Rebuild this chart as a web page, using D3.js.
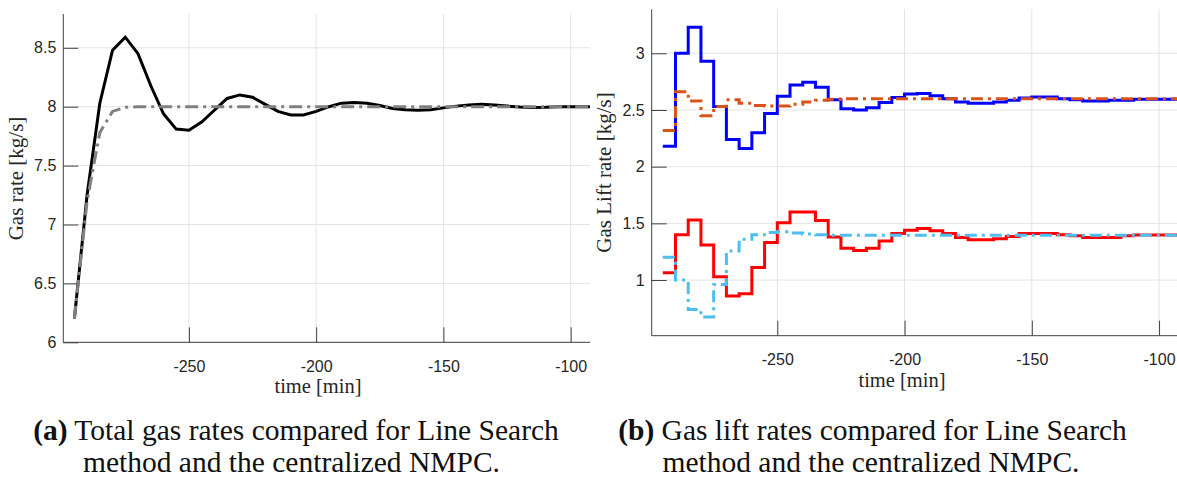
<!DOCTYPE html>
<html><head><meta charset="utf-8">
<script src="https://cdn.jsdelivr.net/npm/d3@7"></script>
<style>
html,body{margin:0;padding:0;background:#fff;}
svg{display:block;}
</style></head>
<body>
<svg id="chart" width="1177" height="479"></svg>
<script>
// ---------- data ----------
const timeMin = d3.range(-295, -94, 5); // sample times
const xTicks = [-250, -200, -150, -100];

// (a) total gas rates
const gasLineSearch = [6.2, 7.25, 8.03, 8.48, 8.59, 8.45, 8.18, 7.94, 7.81, 7.80,
  7.87, 7.97, 8.07, 8.10, 8.08, 8.02, 7.96, 7.93, 7.93, 7.96,
  8.00, 8.03, 8.035, 8.03, 8.01, 7.985, 7.975, 7.97, 7.975, 7.99,
  8.005, 8.015, 8.02, 8.015, 8.005, 7.997, 7.994, 7.995, 8.0, 8.0, 8.0];
const gasCentral = [6.2, 7.2, 7.78, 7.96, 7.995, 8.0, 8.0, 8.0, 8.0, 8.0,
  8.0, 8.0, 8.0, 8.0, 8.0, 8.0, 8.0, 8.0, 8.0, 8.0,
  8.0, 8.0, 8.0, 8.0, 8.0, 8.0, 8.0, 8.0, 8.0, 8.0,
  8.0, 8.0, 8.0, 8.0, 8.0, 8.0, 8.0, 8.0, 8.0, 8.0, 8.0];
const yTicksA = [6, 6.5, 7, 7.5, 8, 8.5];

// (b) gas lift rates
const well1LineSearch = [2.18, 3.00, 3.23, 2.93, 2.53, 2.24, 2.16, 2.30, 2.47, 2.62,
  2.72, 2.745, 2.70, 2.59, 2.51, 2.50, 2.52, 2.565, 2.61, 2.64,
  2.645, 2.625, 2.60, 2.57, 2.56, 2.56, 2.57, 2.585, 2.605, 2.615,
  2.615, 2.60, 2.59, 2.58, 2.58, 2.585, 2.585, 2.595, 2.595, 2.595, 2.595];
const well1Central = [2.32, 2.66, 2.58, 2.45, 2.53, 2.59, 2.56, 2.54, 2.535, 2.535,
  2.55, 2.57, 2.585, 2.595, 2.60, 2.60, 2.60, 2.60, 2.60, 2.60,
  2.60, 2.60, 2.60, 2.60, 2.60, 2.60, 2.60, 2.60, 2.60, 2.60,
  2.60, 2.60, 2.60, 2.60, 2.60, 2.60, 2.60, 2.60, 2.60, 2.60, 2.60];
const well2LineSearch = [1.065, 1.40, 1.53, 1.31, 1.03, 0.86, 0.88, 1.11, 1.33, 1.505,
  1.60, 1.60, 1.525, 1.38, 1.28, 1.26, 1.28, 1.345, 1.41, 1.44,
  1.455, 1.435, 1.41, 1.375, 1.355, 1.355, 1.365, 1.385, 1.41, 1.41,
  1.41, 1.40, 1.39, 1.375, 1.375, 1.375, 1.39, 1.397, 1.397, 1.397, 1.397];
const well2Central = [1.20, 1.00, 0.74, 0.675, 0.96, 1.255, 1.36, 1.40, 1.42, 1.425,
  1.415, 1.405, 1.40, 1.395, 1.395, 1.395, 1.395, 1.395, 1.395, 1.395,
  1.395, 1.395, 1.395, 1.395, 1.395, 1.395, 1.395, 1.395, 1.395, 1.395,
  1.395, 1.395, 1.395, 1.395, 1.395, 1.395, 1.395, 1.395, 1.395, 1.395, 1.395];
const yTicksB = [1, 1.5, 2, 2.5, 3];

const xDomain = [-299.35, -92.4];

// ---------- drawing ----------
const svg = d3.select('#chart');
const axisColor = '#404040';
const gridColor = '#e3e3e3';
const tickFont = '"Liberation Sans", Arial, sans-serif';
const labelFont = '"Liberation Serif", "Times New Roman", serif';

function series(vals) {
  const pts = timeMin.map((t, i) => ({t, v: vals[i]}));
  pts.push({t: xDomain[1], v: vals[vals.length - 1]});
  return pts;
}

function panel(opt) {
  const x = d3.scaleLinear().domain(xDomain).range([opt.left, opt.left + 526.7]);
  const y = d3.scaleLinear().domain(opt.yDomain).range([opt.bottom, opt.top]);
  const g = svg.append('g');

  // grid
  g.selectAll('.vg').data(xTicks).enter().append('line')
    .attr('x1', d => x(d)).attr('x2', d => x(d))
    .attr('y1', opt.top).attr('y2', opt.bottom)
    .attr('stroke', gridColor).attr('stroke-width', 1);
  g.selectAll('.hg').data(opt.yTicks).enter().append('line')
    .attr('x1', opt.left).attr('x2', opt.left + 526.7)
    .attr('y1', d => y(d)).attr('y2', d => y(d))
    .attr('stroke', gridColor).attr('stroke-width', 1);

  // axes with inward ticks
  const xAxis = d3.axisBottom(x).tickValues(xTicks).tickSize(-15).tickPadding(24)
    .tickFormat(d => String(d));
  const gx = g.append('g').attr('transform', `translate(0,${opt.bottom})`).call(xAxis);
  const yAxis = d3.axisLeft(y).tickValues(opt.yTicks).tickSize(-15).tickPadding(22)
    .tickFormat(d => String(d));
  const gy = g.append('g').attr('transform', `translate(${opt.left},0)`).call(yAxis);
  [gx, gy].forEach(a => {
    a.select('.domain').remove();
    a.selectAll('.tick line').attr('stroke', axisColor).attr('stroke-width', 1);
    a.selectAll('.tick text').attr('fill', '#262626')
      .style('font-family', tickFont).style('font-size', '16px');
  });
  gx.selectAll('.tick text').attr('dy', '0.71em').attr('y', 18);
  gy.selectAll('.tick text').attr('x', -7);
  // axis lines
  g.append('line').attr('x1', opt.left).attr('x2', opt.left + 526.7)
    .attr('y1', opt.bottom).attr('y2', opt.bottom)
    .attr('stroke', axisColor).attr('stroke-width', 1);
  g.append('line').attr('x1', opt.left).attr('x2', opt.left)
    .attr('y1', opt.top).attr('y2', opt.bottom)
    .attr('stroke', axisColor).attr('stroke-width', 1);

  // lines
  opt.lines.forEach(l => {
    const gen = d3.line().x(d => x(d.t)).y(d => y(d.v))
      .curve(l.step ? d3.curveStepAfter : d3.curveLinear);
    g.append('path').datum(series(l.values))
      .attr('d', gen)
      .attr('fill', 'none')
      .attr('stroke', l.color)
      .attr('stroke-width', 3)
      .attr('stroke-linejoin', 'miter')
      .attr('stroke-dasharray', l.dash || null);
  });

  // labels
  g.append('text').attr('x', opt.xLabelX).attr('y', opt.bottom + 51)
    .attr('text-anchor', 'middle').attr('fill', '#262626')
    .style('font-family', labelFont).style('font-size', '20.5px')
    .text('time [min]');
  g.append('text')
    .attr('transform', `translate(${opt.yLabelX},${opt.yLabelY}) rotate(-90)`)
    .attr('text-anchor', 'middle').attr('fill', '#262626')
    .style('font-family', labelFont).style('font-size', '21px')
    .text(opt.yLabel);
}

panel({
  left: 63.3, top: 14, bottom: 342.3,
  yDomain: [6, 8.787], yTicks: yTicksA,
  xLabelX: 318, yLabelX: 23, yLabelY: 178.5,
  yLabel: 'Gas rate [kg/s]',
  lines: [
    {values: gasLineSearch, color: '#000000'},
    {values: gasCentral, color: '#808080', dash: '13,5,3,5'}
  ]
});

panel({
  left: 651.7, top: 9.3, bottom: 335.7,
  yDomain: [0.509, 3.388], yTicks: yTicksB,
  xLabelX: 902, yLabelX: 611, yLabelY: 172.5,
  yLabel: 'Gas Lift rate [kg/s]',
  lines: [
    {values: well1LineSearch, color: '#0000ff', step: true},
    {values: well2LineSearch, color: '#ff0000', step: true},
    {values: well1Central, color: '#d95319', step: true, dash: '12,5,3,5'},
    {values: well2Central, color: '#4dbeee', step: true, dash: '12,5,3,5'}
  ]
});

// captions
const captions = [
  {tag: '(a)', l1: ' Total gas rates compared for Line Search', cx1: 296, cx2: 291.5},
  {tag: '(b)', l1: ' Gas lift rates compared for Line Search', cx1: 872.5, cx2: 871}
];
captions.forEach(c => {
  const t1 = svg.append('text').attr('x', c.cx1).attr('y', 440)
    .attr('text-anchor', 'middle').attr('fill', '#111')
    .style('font-family', labelFont).style('font-size', '29.5px');
  t1.append('tspan').style('font-weight', 'bold').text(c.tag);
  t1.append('tspan').text(c.l1);
  svg.append('text').attr('x', c.cx2).attr('y', 472)
    .attr('text-anchor', 'middle').attr('fill', '#111')
    .style('font-family', labelFont).style('font-size', '29.5px')
    .text('method and the centralized NMPC.');
});
</script>
</body></html>
